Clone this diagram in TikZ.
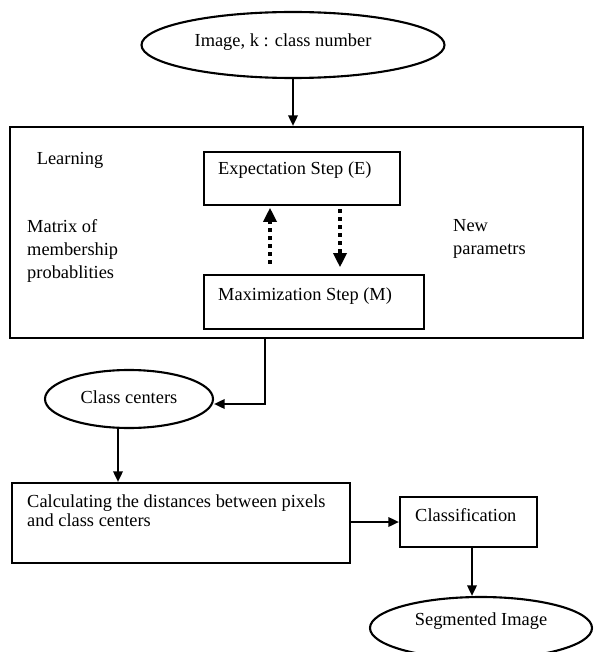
\documentclass[tikz,border=0pt]{standalone}
\usepackage{fontspec}
\setmainfont{Liberation Serif}
\usetikzlibrary{arrows.meta,shapes.geometric}
\begin{document}
\begin{tikzpicture}[x=0.03cm,y=-0.03cm,
  every node/.style={font=\fontsize{15.7}{19.7}\selectfont},
  oval/.style={draw,ellipse,line width=1.8pt,inner sep=0pt},
  box/.style={draw,rectangle,line width=1.8pt,inner sep=0pt},
  link/.style={line width=1.8pt,-{Triangle[width=8pt,length=9pt]}},
  loop/.style={line width=3.4pt,dash pattern=on 3.4pt off 3.4pt,-{Triangle[width=11pt,length=12pt]}}]
\path[use as bounding box,clip] (0,0) rectangle (593,652);

% input and EM loop
\node (input) [oval,minimum width=9.09cm,minimum height=1.98cm] at (293,45) {};
\node at (283,42) {Image, k : class number};

\node (learn) [box,minimum width=17.19cm,minimum height=6.33cm] at (296.5,232.5) {};
\node at (70,160) {Learning};
\node [anchor=north west,align=left,inner sep=0pt] at (27,219) {Matrix of\\membership\\probablities};
\node [anchor=north west,align=left,inner sep=0pt] at (453,219) {New\\parametrs};

\node (estep) [box,minimum width=5.88cm,minimum height=1.59cm] at (302,178.5) {};
\node [anchor=west,inner sep=0pt] at (218,170) {Expectation Step (E)};
\node (mstep) [box,minimum width=6.6cm,minimum height=1.62cm] at (314,302) {};
\node [anchor=west,inner sep=0pt] at (218,296) {Maximization Step (M)};

\coordinate (up) at (270,0);
\coordinate (dn) at (340,0);
\draw[loop,shorten <=0.3cm,shorten >=0.05cm] (mstep.north -| up) -- (estep.south -| up);
\draw[loop,shorten <=0.1cm,shorten >=0.2cm] (estep.south -| dn) -- (mstep.north -| dn);

% results
\node (centers) [oval,minimum width=5.04cm,minimum height=1.74cm] at (129,399) {};
\node at (129,397) {Class centers};

\node (dist) [box,minimum width=10.14cm,minimum height=2.4cm] at (181,523) {};
\node [anchor=north west,align=left,inner sep=0pt] at (27,494) {Calculating the distances between pixels\\[-3pt]and class centers};

\node (classif) [box,minimum width=4.11cm,minimum height=1.5cm] at (468.5,522) {};
\node [anchor=west,inner sep=0pt] at (415,515) {Classification};

\node (seg) [oval,minimum width=6.66cm,minimum height=1.86cm] at (481,628) {};
\node at (481,621) {Segmented Image};

\coordinate (turn) at (265,404);
\coordinate (down) at (118,0);
\coordinate (fork) at (472,0);
\draw[link] (input.south) -- (input.south |- learn.north);
\draw[link] (learn.south -| turn) -- (turn) -- (turn -| centers.east);
\draw[link] (centers.south -| down) -- (dist.north -| down);
\draw[link] (dist.east |- classif.west) -- (classif.west);
\draw[link] (classif.south -| fork) -- (seg.north -| fork);
\end{tikzpicture}
\end{document}
